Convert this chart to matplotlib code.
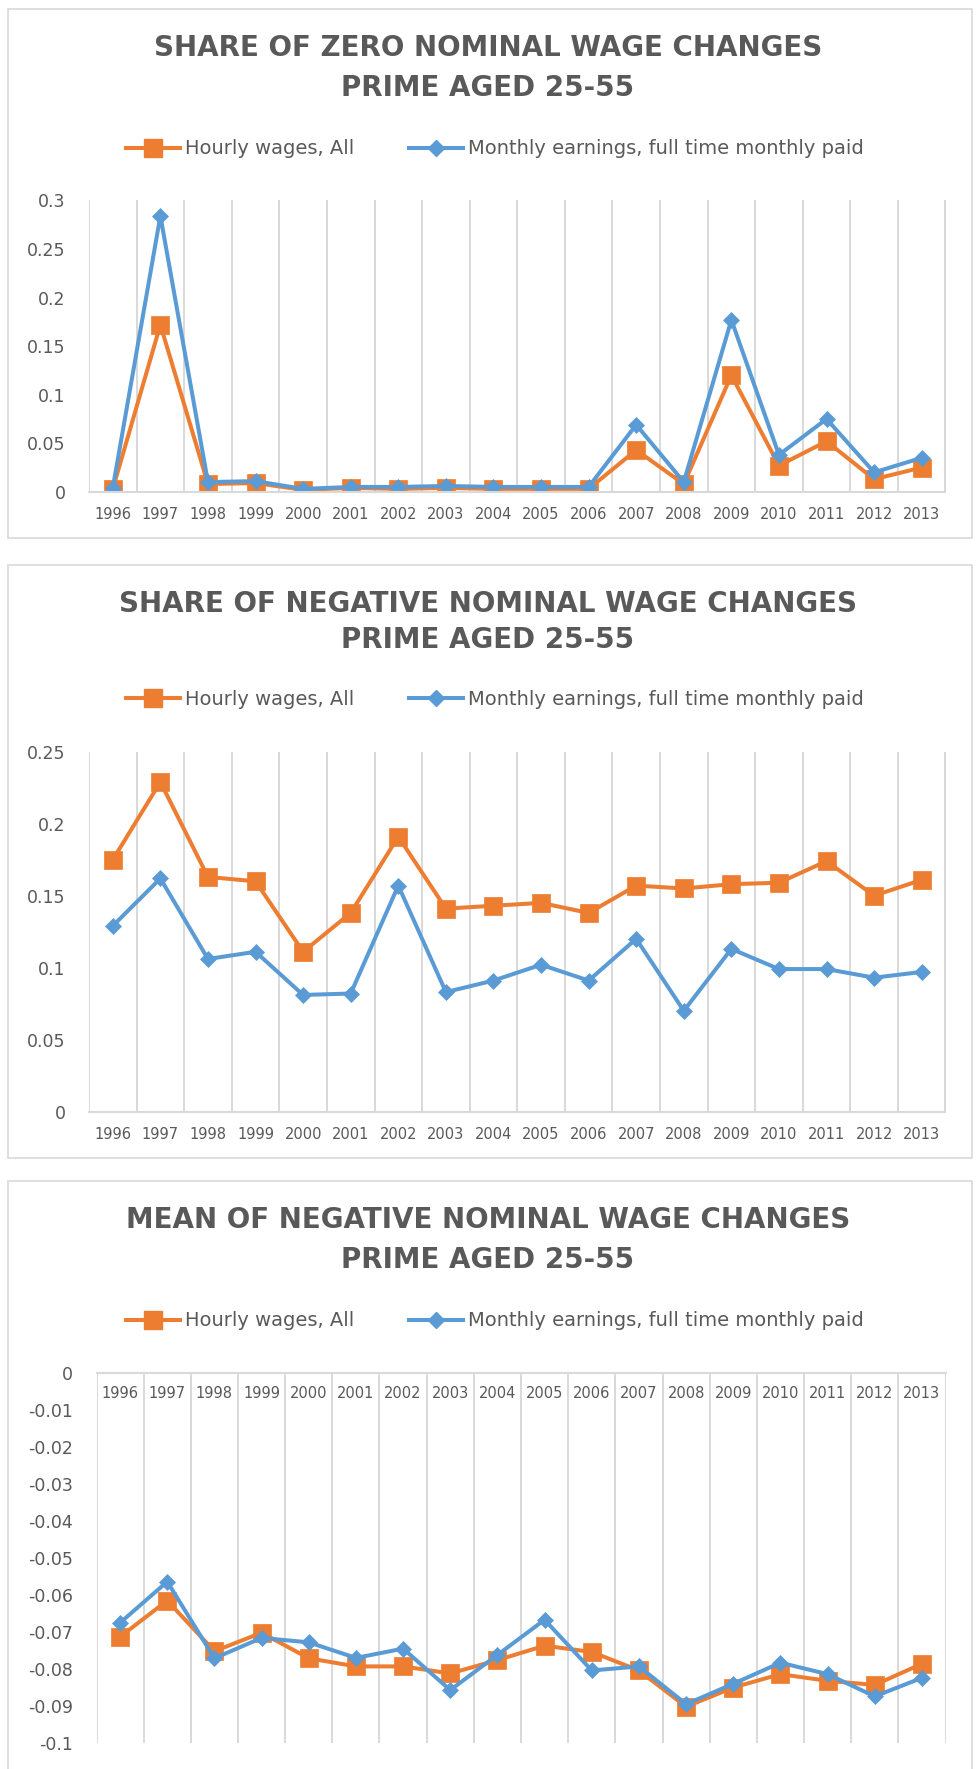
import matplotlib
matplotlib.use('Agg')
import matplotlib.pyplot as plt
from matplotlib.patches import Rectangle
from matplotlib.lines import Line2D
import numpy as np

# Data
years = ['1996', '1997', '1998', '1999', '2000', '2001', '2002', '2003', '2004',
         '2005', '2006', '2007', '2008', '2009', '2010', '2011', '2012', '2013']

zero_hourly = [0.003, 0.172, 0.008, 0.009, 0.002, 0.004, 0.003, 0.004, 0.003,
               0.003, 0.003, 0.043, 0.008, 0.120, 0.027, 0.052, 0.013, 0.025]
zero_monthly = [0.004, 0.284, 0.010, 0.011, 0.003, 0.005, 0.005, 0.006, 0.005,
                0.005, 0.005, 0.069, 0.010, 0.177, 0.038, 0.075, 0.020, 0.035]

neg_hourly = [0.175, 0.229, 0.163, 0.160, 0.111, 0.138, 0.191, 0.141, 0.143,
              0.145, 0.138, 0.157, 0.155, 0.158, 0.159, 0.174, 0.150, 0.161]
neg_monthly = [0.129, 0.162, 0.106, 0.111, 0.081, 0.082, 0.157, 0.083, 0.091,
               0.102, 0.091, 0.120, 0.070, 0.113, 0.099, 0.099, 0.093, 0.097]

mean_hourly = [-0.0713, -0.0615, -0.0752, -0.0702, -0.0771, -0.0793, -0.0793, -0.0812, -0.0776,
               -0.0737, -0.0754, -0.0804, -0.0902, -0.0850, -0.0814, -0.0832, -0.0843, -0.0786]
mean_monthly = [-0.0675, -0.0564, -0.0771, -0.0716, -0.0728, -0.0770, -0.0745, -0.0857, -0.0762,
                -0.0667, -0.0804, -0.0793, -0.0895, -0.0840, -0.0783, -0.0814, -0.0874, -0.0824]

zero_yticks = [0, 0.05, 0.1, 0.15, 0.2, 0.25, 0.3]
neg_yticks = [0, 0.05, 0.1, 0.15, 0.2, 0.25]
mean_yticks = [0, -0.01, -0.02, -0.03, -0.04, -0.05, -0.06, -0.07, -0.08, -0.09, -0.1]

series_names = ['Hourly wages, All', 'Monthly earnings, full time monthly paid']

ORANGE = '#ED7D31'
BLUE = '#5B9BD5'
GRID = '#D9D9D9'
TXT = '#595959'
H = 1769.0
W = 976.0

fig = plt.figure(figsize=(9.76, 17.69), dpi=100)


def fy(px):
    return 1 - px / H


def panel(rect, hourly, monthly, yticks, ylim, titles, title_y, legend_y, axis_top=False):
    ax = fig.add_axes(rect)
    x = np.arange(len(years))
    ax.plot(x, hourly, color=ORANGE, lw=2.9, marker='s', ms=12.5, mec=ORANGE, mew=0.5)
    ax.plot(x, monthly, color=BLUE, lw=2.9, marker='D', ms=8.5, mec=BLUE, mew=0.5)
    ax.set_xlim(-0.5, len(years) - 0.5)
    ax.set_ylim(*ylim)
    ax.set_xticks(x)
    ax.set_xticklabels(years, fontsize=10.5, color=TXT)
    ax.set_xticks(np.arange(-0.5, len(years)), minor=True)
    ax.grid(which='minor', axis='x', color=GRID, lw=1.4)
    ax.set_yticks(yticks)
    ax.set_yticklabels([f'{v:g}' for v in yticks], fontsize=12.5, color=TXT)
    ax.tick_params(axis='y', length=0, pad=17)
    ax.tick_params(axis='x', which='both', length=0)
    for s in ['left', 'right']:
        ax.spines[s].set_visible(False)
    if axis_top:
        ax.spines['bottom'].set_visible(False)
        ax.spines['top'].set_color(GRID)
        ax.spines['top'].set_linewidth(1.5)
        ax.tick_params(axis='x', labeltop=True, labelbottom=False, pad=-20)
    else:
        ax.spines['top'].set_visible(False)
        ax.spines['bottom'].set_color(GRID)
        ax.spines['bottom'].set_linewidth(1.5)
        ax.tick_params(axis='x', pad=11)
    ax.set_axisbelow(True)

    for t, ty in zip(titles, title_y):
        fig.text(0.5, fy(ty), t, ha='center', va='center', fontsize=20,
                 fontweight='bold', color=TXT)

    handles = [Line2D([], [], color=ORANGE, lw=2.9, marker='s', ms=12.5, mec=ORANGE),
               Line2D([], [], color=BLUE, lw=2.9, marker='D', ms=8.5, mec=BLUE)]
    fig.legend(handles, series_names, loc='center', bbox_to_anchor=(0.507, fy(legend_y)),
               ncol=2, frameon=False, fontsize=14, labelcolor=TXT, handlelength=2.8,
               handletextpad=0.25, columnspacing=2.8)
    return ax


# panel borders
for (top, bottom) in [(9, 538), (565, 1158), (1181, 1790)]:
    fig.add_artist(Rectangle((7.5 / W, fy(bottom)), 964.5 / W, (bottom - top) / H,
                             transform=fig.transFigure, fill=False, ec=GRID, lw=1.2))

panel([89 / W, fy(491.8), 856.5 / W, 291.4 / H], zero_hourly, zero_monthly,
      zero_yticks, (0, 0.3),
      ['SHARE OF ZERO NOMINAL WAGE CHANGES', 'PRIME AGED 25-55'], [48, 88], 149)

panel([89 / W, fy(1111.5), 856.5 / W, 359.7 / H], neg_hourly, neg_monthly,
      neg_yticks, (0, 0.25),
      ['SHARE OF NEGATIVE NOMINAL WAGE CHANGES', 'PRIME AGED 25-55'], [604, 640], 699)

panel([96.5 / W, fy(1743), 849 / W, 370 / H], mean_hourly, mean_monthly,
      mean_yticks, (-0.1, 0),
      ['MEAN OF NEGATIVE NOMINAL WAGE CHANGES', 'PRIME AGED 25-55'], [1220, 1260], 1321,
      axis_top=True)

fig.savefig('out.png', dpi=100, facecolor='white')
